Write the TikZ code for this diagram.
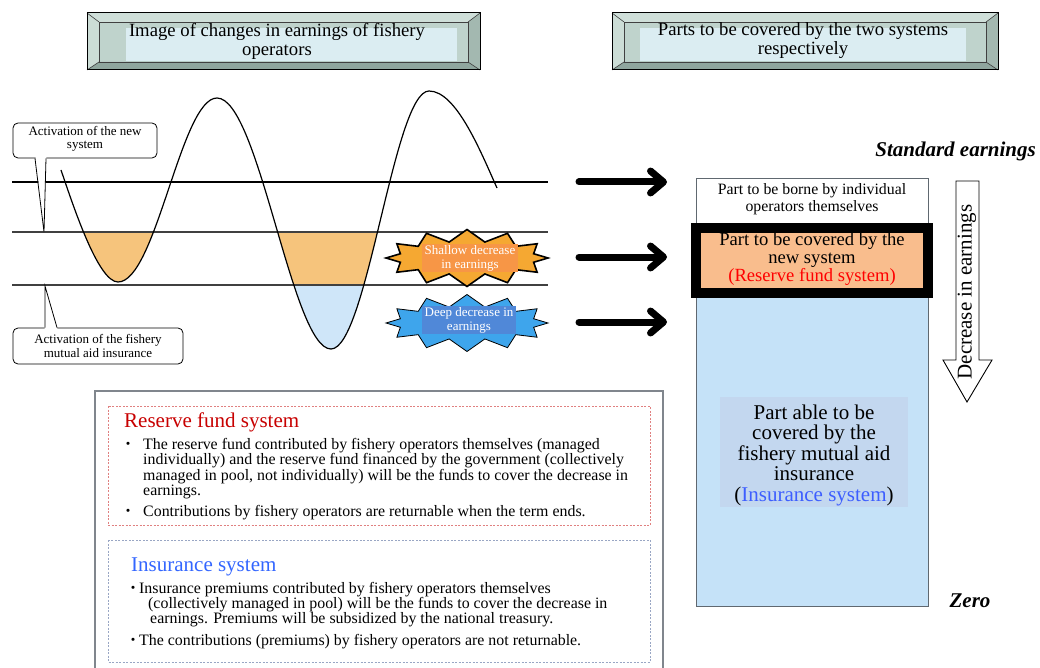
\documentclass[tikz,border=0pt]{standalone}
\usepackage{fontspec}
\setmainfont{Liberation Serif}
\newfontfamily\cjk{Noto Sans CJK JP}
\usetikzlibrary{shapes.symbols,arrows.meta}
\definecolor{bevmid}{HTML}{BFD3CC}
\definecolor{bevlight}{HTML}{CFDFD9}
\definecolor{bevdark}{HTML}{8FA69E}
\definecolor{bevright}{HTML}{A3B8B0}
\definecolor{bevtext}{HTML}{DBEDF2}
\definecolor{troughorange}{HTML}{F6C47C}
\definecolor{troughblue}{HTML}{CFE6F9}
\definecolor{burstorange}{HTML}{F5A832}
\definecolor{bursttextorange}{HTML}{F79646}
\definecolor{burstblue}{HTML}{3EA5EC}
\definecolor{bursttextblue}{HTML}{5088D8}
\definecolor{resorange}{HTML}{F9BD8D}
\definecolor{insblue}{HTML}{C5E2F8}
\definecolor{insinner}{HTML}{C3D7EF}
\definecolor{boxgray}{HTML}{606870}
\definecolor{redtitle}{HTML}{C80000}
\definecolor{bluetitle}{HTML}{3366FF}
\definecolor{blueins}{HTML}{3D5EFF}
\definecolor{reddash}{HTML}{E08080}
\definecolor{bluedash}{HTML}{99A6C4}
\definecolor{linegray}{HTML}{404040}
\newcommand\bevelbox[4]{%
  \fill[bevmid] (#1,#2) rectangle (#3,#4);
  \fill[bevlight] (#1,#2) -- (#3,#2) -- (#3-12,#2+9) -- (#1+12,#2+9) -- cycle;
  \fill[bevlight!80!bevmid] (#1,#2) -- (#1+12,#2+9) -- (#1+12,#4-8) -- (#1,#4) -- cycle;
  \fill[bevdark] (#1,#4) -- (#1+12,#4-8) -- (#3-12,#4-8) -- (#3,#4) -- cycle;
  \fill[bevright] (#3,#2) -- (#3,#4) -- (#3-12,#4-8) -- (#3-12,#2+9) -- cycle;
  \draw[linegray,line width=0.6pt] (#1+12,#2+9) rectangle (#3-12,#4-8);
  \draw[linegray,line width=0.6pt] (#1,#2) -- (#1+12,#2+9) (#3,#2) -- (#3-12,#2+9)
     (#1,#4) -- (#1+12,#4-8) (#3,#4) -- (#3-12,#4-8);
  \draw[black,line width=1pt] (#1,#2) rectangle (#3,#4);
}
\newcommand\wavecurve{(61,170) .. controls (73,205) and (98,282) .. (118,282)
  .. controls (156,282) and (181,98) .. (217,98)
  .. controls (259,98) and (292,349) .. (331,349)
  .. controls (367,349) and (394,91) .. (429,91)
  .. controls (456,91) and (480,150) .. (497,188)}
\tikzset{
  titletext/.style={font=\fontsize{18.7}{19}\selectfont, align=center, inner sep=0pt},
  calloutbox/.style={draw=black, line width=0.8pt, rounded corners=5pt, fill=white},
  callouttext/.style={font=\fontsize{13}{13.5}\selectfont, align=center, inner sep=0pt},
  bursttext/.style={font=\fontsize{13}{14}\selectfont, text=white, align=center, inner xsep=2.5pt, inner ysep=1pt},
  burstshape/.style={starburst, starburst points=12, starburst point height=12pt, random starburst=0,
    draw=black, minimum width=162pt, minimum height=57pt, inner sep=0pt},
  bigarrow/.style={line width=7pt, line cap=round, -{Straight Barb[length=13pt,width=22pt,round]}},
  bodyline/.style={font=\fontsize{15.9}{15.9}\selectfont, anchor=base west, inner sep=0pt},
  bullettext/.style={font=\cjk\fontsize{15}{15}\selectfont, anchor=base west, inner sep=0pt},
  systitle/.style={font=\fontsize{21}{21}\selectfont, anchor=base west, inner sep=0pt},
  bolditalic/.style={font=\fontsize{21}{21}\selectfont\bfseries\itshape, inner sep=0pt}
}
\begin{document}
\begin{tikzpicture}[x=1pt,y=-1pt]
\useasboundingbox (0,0) rectangle (1040,668);
\fill[white] (0,0) rectangle (1040,668);

% ---------- title boxes
\bevelbox{87}{13}{480}{70}
\fill[bevtext] (126,28) rectangle (457,61);
\node[titletext] (title1) at (277,41) {Image of changes in earnings of fishery\\operators};
\bevelbox{612}{13}{998}{70}
\fill[bevtext] (640,28) rectangle (966,61);
\node[titletext] (title2) at (803,41) {Parts to be covered by the two systems\\respectively};

% ---------- wave fills
\begin{scope}
  \clip (0,232) rectangle (560,285);
  \fill[troughorange] \wavecurve -- (497,0) -- (61,0) -- cycle;
\end{scope}
\begin{scope}
  \clip (0,285) rectangle (560,400);
  \fill[troughblue] \wavecurve -- (497,0) -- (61,0) -- cycle;
\end{scope}

% ---------- horizontal lines
\coordinate (l1a) at (12,182); \coordinate (l1b) at (548,182);
\coordinate (l2a) at (12,232); \coordinate (l2b) at (548,232);
\coordinate (l3a) at (12,285); \coordinate (l3b) at (548,285);
\draw[black, line width=2.4pt] (l1a) -- (l1b);
\draw[linegray, line width=1.3pt] (l2a) -- (l2b);
\draw[linegray, line width=1.3pt] (l3a) -- (l3b);

% ---------- wave
\draw[black, line width=1.2pt] \wavecurve;

% ---------- callouts
\draw[calloutbox] (13,123) rectangle (157,158);
\fill[white] (35.6,157) -- (44,232) -- (46.4,157) -- cycle;
\draw[black, line width=0.8pt] (35,158.4) -- (44,232) -- (46,158.4);
\node[callouttext] (call1) at (85,139) {Activation of the new\\system};

\draw[calloutbox] (13,328) rectangle (183,364);
\fill[white] (44.6,329) -- (45,286) -- (57.4,329) -- cycle;
\draw[black, line width=0.8pt] (45,327.6) -- (45,286) -- (57,327.6);
\node[callouttext] (call2) at (98,346) {Activation of the fishery\\mutual aid insurance};

% ---------- starbursts
\node[burstshape, fill=burstorange, line width=1.6pt] (sb1) at (467,258) {};
\node[bursttext, fill=bursttextorange] (sbt1) at (470,258) {Shallow decrease\\in earnings};
\node[burstshape, fill=burstblue, line width=0.8pt] (sb2) at (467,323) {};
\node[bursttext, fill=bursttextblue] (sbt2) at (469,320) {Deep decrease in\\earnings};

% ---------- big arrows
\coordinate (a1s) at (579,182); \coordinate (a1e) at (667,182);
\coordinate (a2s) at (579,257); \coordinate (a2e) at (667,257);
\coordinate (a3s) at (579,322); \coordinate (a3e) at (667,322);
\draw[bigarrow] (a1s) -- (a1e);
\draw[bigarrow] (a2s) -- (a2e);
\draw[bigarrow] (a3s) -- (a3e);

% ---------- right column
\draw[boxgray, line width=1pt, fill=insblue] (696,296) rectangle (928,606);
\draw[boxgray, line width=1pt, fill=white] (696,179) rectangle (928,230);
\node[font=\fontsize{15.8}{16.5}\selectfont, align=center, inner sep=0pt] (borne) at (812,199)
  {Part to be borne by individual\\operators themselves};
\draw[black, line width=10pt, fill=resorange] (696,228) rectangle (928,293);
\node[font=\fontsize{18.6}{17.8}\selectfont, align=center, inner sep=0pt] (newsys) at (812,259)
  {Part to be covered by the\\new system\\\textcolor{red}{(Reserve fund system)}};
\fill[insinner] (720,397) rectangle (908,507);
\node[font=\fontsize{21}{20.5}\selectfont, align=center, inner sep=0pt] (inspart) at (814,455)
  {Part able to be\\covered by the\\fishery mutual aid\\insurance\\(\textcolor{blueins}{Insurance system})};

\node[bolditalic, anchor=east] (std) at (1036,151) {Standard earnings};
\node[bolditalic] (zero) at (970,601) {Zero};

\draw[black, line width=0.9pt, fill=white] (956,181) -- (979,181) -- (979,360) -- (992,360)
  -- (967,402) -- (943,360) -- (956,360) -- cycle;
\node[font=\fontsize{21}{21}\selectfont, rotate=90, inner sep=0pt] (decr) at (967,292) {Decrease in earnings};

% ---------- bottom-left explanation
\draw[boxgray!80, line width=1.4pt] (95,672) -- (95,391) -- (663,391) -- (663,672);
\draw[reddash, line width=1pt, dash pattern=on 2pt off 1.5pt] (108,406) rectangle (650,525);
\draw[bluedash, line width=1pt, dash pattern=on 2pt off 1.5pt] (108,540) rectangle (650,662);

\node[systitle, text=redtitle] (restitle) at (124,427) {Reserve fund system};
\node[bullettext] (rb1) at (120.5,449) {・};
\node[bodyline] (r1) at (143,449) {The reserve fund contributed by fishery operators themselves (managed};
\node[bodyline] (r2) at (143,464.5) {individually) and the reserve fund financed by the government (collectively};
\node[bodyline] (r3) at (143,480) {managed in pool, not individually) will be the funds to cover the decrease in};
\node[bodyline] (r4) at (143,495.5) {earnings.};
\node[bullettext] (rb2) at (120.5,516) {・};
\node[bodyline] (r5) at (143,516) {Contributions by fishery operators are returnable when the term ends.};

\node[systitle, text=bluetitle] (institle) at (131,571) {Insurance system};
\node[bullettext] (ib1) at (125.5,593) {・};
\node[bodyline] (i1) at (139,593) {Insurance premiums contributed by fishery operators themselves};
\node[bodyline] (i2) at (148,608) {(collectively managed in pool) will be the funds to cover the decrease in};
\node[bodyline] (i3) at (150,623) {earnings. Premiums will be subsidized by the national treasury.};
\node[bullettext] (ib2) at (125.5,645) {・};
\node[bodyline] (i4) at (139,645) {The contributions (premiums) by fishery operators are not returnable.};
\end{tikzpicture}
\end{document}
